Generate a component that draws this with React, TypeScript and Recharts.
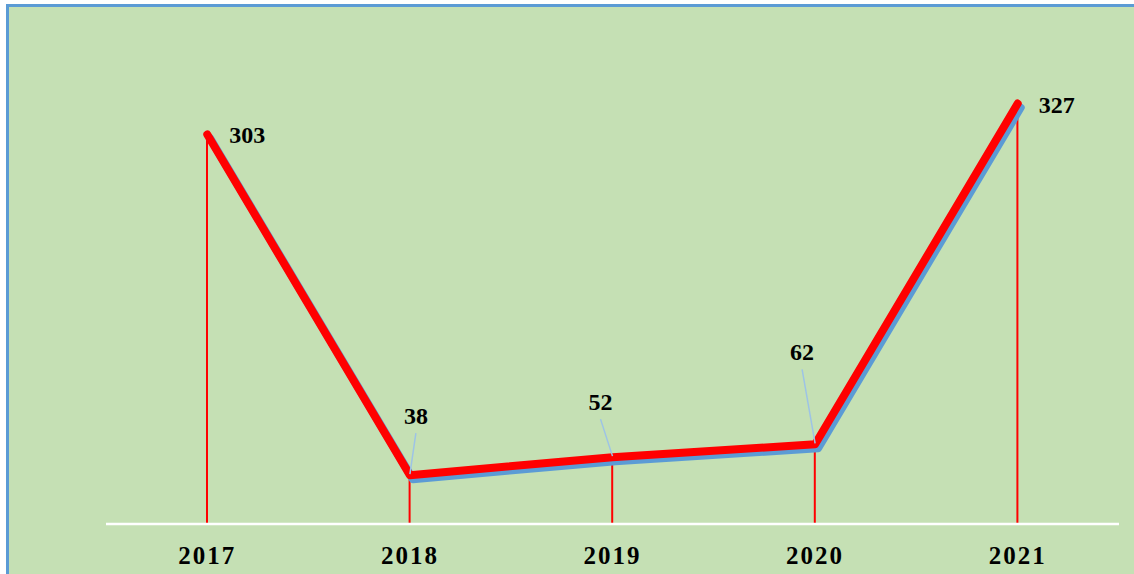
import { ComposedChart, Line, Bar, XAxis, YAxis } from 'recharts';

const years = ['2017', '2018', '2019', '2020', '2021'];
const counts = [303, 38, 52, 62, 327];

const data = years.map((year, i) => ({ year, count: counts[i] }));

// label placement relative to each point: [dx, dy baseline, leader line?]
const LABEL_POS: [number, number, boolean][] = [
  [40, 9, false],
  [6, -51, true],
  [-12, -47, true],
  [-13, -84, true],
  [39, 9, false],
];

const FONT = '"Liberation Serif", "Times New Roman", Times, serif';

const renderLabel = (props: any) => {
  const { x, y, value, index } = props;
  const [dx, dy, leader] = LABEL_POS[index] || [0, -10, false];
  return (
    <g>
      {leader && (
        <line
          x1={x + dx}
          y1={y + dy + 9}
          x2={x}
          y2={y - 1}
          stroke="#9DC3E6"
          strokeWidth={1.5}
        />
      )}
      <text
        x={x + dx}
        y={y + dy}
        textAnchor="middle"
        style={{ fontFamily: FONT }}
        fontWeight="bold"
        fontSize={24}
        fill="#000"
      >
        {value}
      </text>
    </g>
  );
};

export default function App() {
  return (
    <div style={{ position: 'fixed', left: 0, top: 0, width: 1134, height: 574, overflow: 'hidden', background: '#fff' }}>
      <style>{`.main-line .recharts-line-curve { filter: drop-shadow(3px 4px 0 #5B9BD5); }
.recharts-cartesian-axis-tick text { font-family: ${FONT}; }`}</style>
      <div
        style={{
          position: 'absolute',
          left: 6,
          top: 4,
          width: 1160,
          height: 600,
          background: '#C5E0B4',
          border: '3px solid #5B9BD5',
          boxSizing: 'border-box',
        }}
      />
      <div style={{ position: 'absolute', left: 0, top: 0 }}>
        <ComposedChart width={1134} height={574} data={data} margin={{ top: 74, right: 15, bottom: 10, left: 106 }}>
          <XAxis
            dataKey="year"
            height={40}
            axisLine={{ stroke: '#fff', strokeWidth: 2.5 }}
            tickLine={false}
            tickSize={6}
            tickMargin={16}
            tick={{ fill: '#000', fontWeight: 'bold', fontSize: 25, letterSpacing: 2 }}
          />
          <YAxis hide domain={[0, 350]} />
          <Bar dataKey="count" barSize={2} fill="#FF0000" isAnimationActive={false} />
          <Line
            className="main-line"
            dataKey="count"
            stroke="#FF0000"
            strokeWidth={8}
            strokeLinecap="round"
            strokeLinejoin="round"
            dot={false}
            label={renderLabel}
            isAnimationActive={false}
          />
        </ComposedChart>
      </div>
    </div>
  );
}
